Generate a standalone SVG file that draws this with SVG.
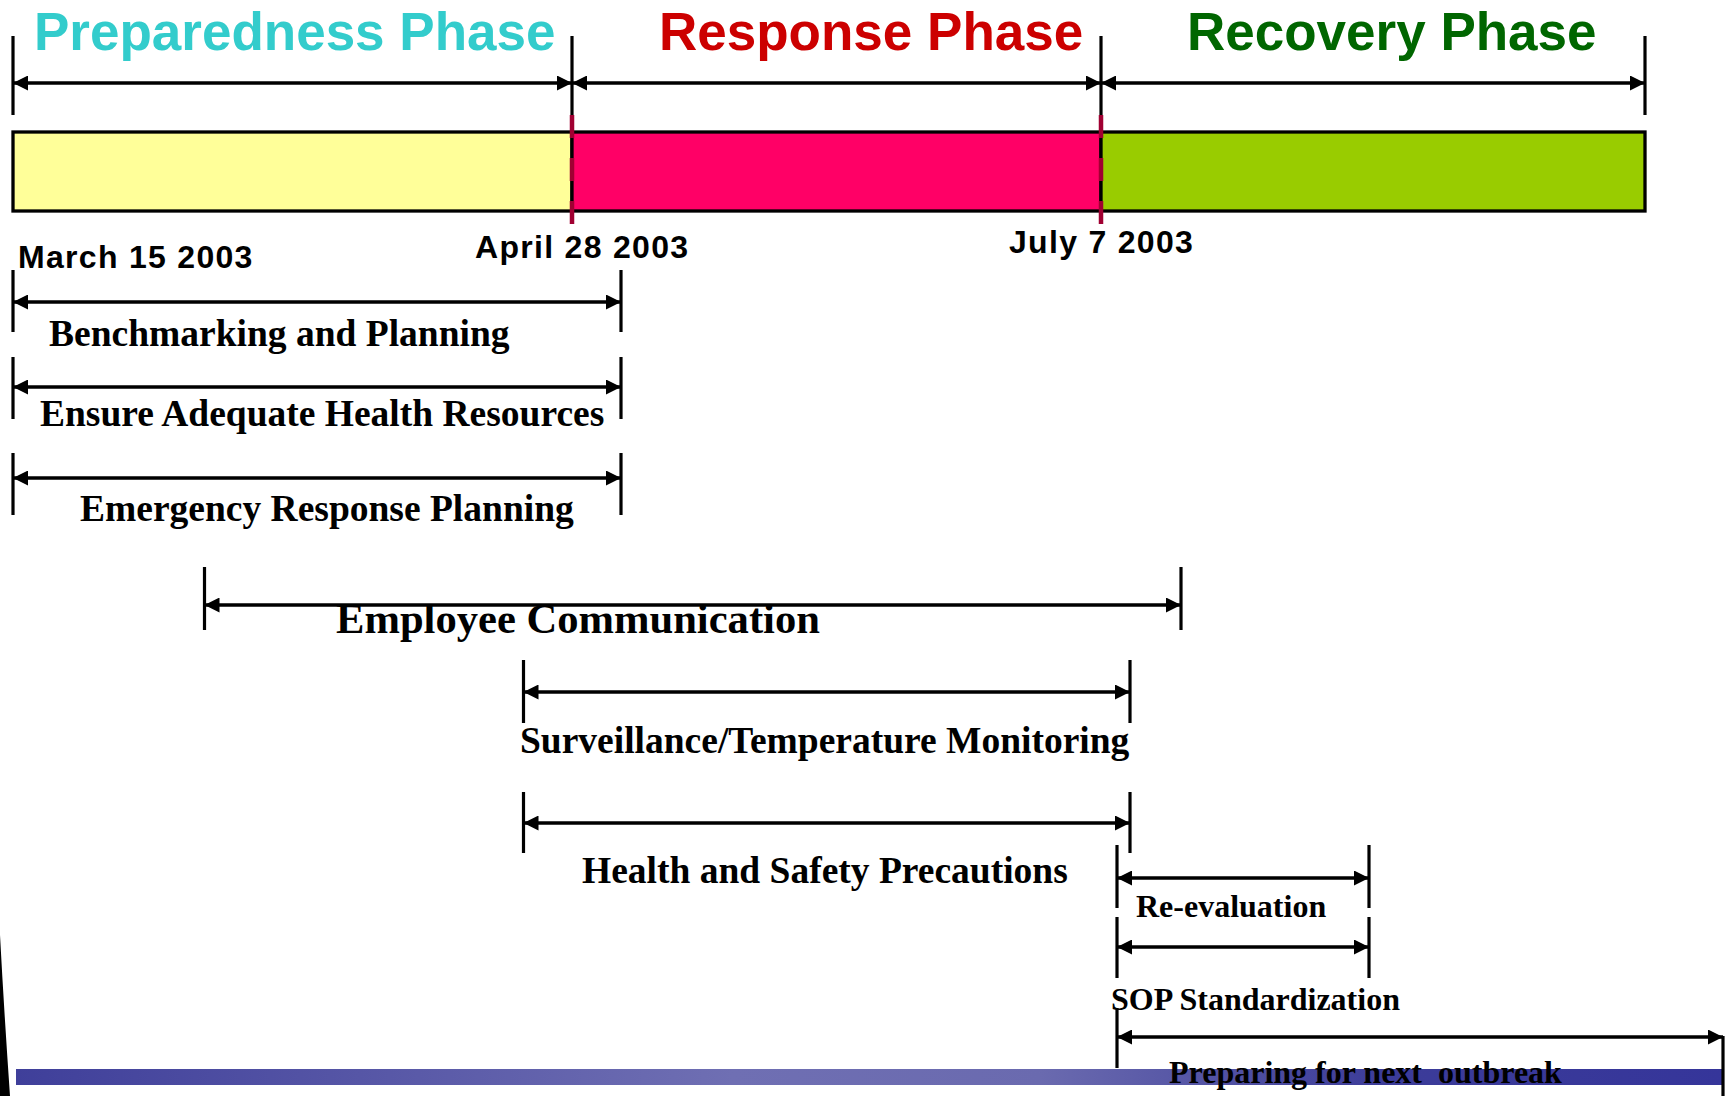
<svg xmlns="http://www.w3.org/2000/svg" width="1731" height="1096" viewBox="0 0 1731 1096">
  <defs>
    <marker id="ah" markerUnits="userSpaceOnUse" markerWidth="15" markerHeight="15" refX="15" refY="7.5" orient="auto-start-reverse">
      <path d="M0,0 L15,7.5 L0,15 z" fill="#000"/>
    </marker>
    <linearGradient id="band" x1="0" y1="0" x2="1" y2="0">
      <stop offset="0" stop-color="#3f3f9a"/>
      <stop offset="0.42" stop-color="#6f6fb3"/>
      <stop offset="0.6" stop-color="#6a6aaf"/>
      <stop offset="0.8" stop-color="#3c3c99"/>
      <stop offset="1" stop-color="#35359a"/>
    </linearGradient>
    <style>
      .title { font-family: "Liberation Sans", Arial, sans-serif; font-weight: bold; font-size: 53px; }
      .date { font-family: "Liberation Sans", Arial, sans-serif; font-weight: bold; font-size: 32px; letter-spacing: 1.3px; fill: #000; }
      .lbl { font-family: "Liberation Serif", "Times New Roman", serif; font-weight: bold; font-size: 37.5px; fill: #000; }
      .sm { font-size: 32px; }
      .big { font-size: 42.6px; }
      .arr { stroke: #000; stroke-width: 3.4; fill: none; marker-start: url(#ah); marker-end: url(#ah); }
      .tick { stroke: #000; stroke-width: 3.2; fill: none; }
      .seg { stroke: #000; stroke-width: 3.3; }
      .div { stroke: #a00032; stroke-width: 4.5; stroke-dasharray: 23 20; fill: none; }
    </style>
  </defs>
  <rect width="1731" height="1096" fill="#fff"/>

  <!-- left edge sliver -->
  <path d="M0,935 Q4,1010 10,1096 L0,1096 Z" fill="#000"/>

  <!-- bottom band -->
  <g id="bottom-band">
    <rect x="16" y="1069" width="1707" height="16" fill="url(#band)"/>
  </g>

  <!-- phase bar -->
  <g id="phase-bar">
    <rect class="seg" x="13" y="132" width="559" height="79" fill="#ffff99"/>
    <rect class="seg" x="572" y="132" width="529" height="79" fill="#ff0066"/>
    <rect class="seg" x="1101" y="132" width="544" height="79" fill="#99cc00"/>
    <line class="div" x1="572" y1="115" x2="572" y2="224"/>
    <line class="div" x1="1101" y1="115" x2="1101" y2="224"/>
  </g>

  <g id="phase-preparedness"><text class="title" x="34" y="50" fill="#33cccc">Preparedness Phase</text></g>
  <g id="phase-response"><text class="title" x="659" y="50" fill="#cc0000">Response Phase</text></g>
  <g id="phase-recovery"><text class="title" x="1187" y="50" fill="#006600">Recovery Phase</text></g>

  <g id="date-march"><text class="date" x="18" y="268">March 15 2003</text></g>
  <g id="date-april"><text class="date" x="475" y="258">April 28 2003</text></g>
  <g id="date-july"><text class="date" x="1009" y="253">July 7 2003</text></g>

  <g id="connectors">
    <!-- phase ranges -->
    <line class="tick" x1="13" y1="36" x2="13" y2="115"/>
    <line class="tick" x1="572" y1="36" x2="572" y2="115"/>
    <line class="tick" x1="1101" y1="36" x2="1101" y2="115"/>
    <line class="tick" x1="1645" y1="36" x2="1645" y2="115"/>
    <line class="arr" x1="13" y1="83" x2="572" y2="83"/>
    <line class="arr" x1="572" y1="83" x2="1101" y2="83"/>
    <line class="arr" x1="1101" y1="83" x2="1645" y2="83"/>

    <!-- benchmarking -->
    <line class="tick" x1="13" y1="270" x2="13" y2="332"/>
    <line class="tick" x1="621" y1="270" x2="621" y2="332"/>
    <line class="arr" x1="13" y1="302" x2="621" y2="302"/>
    <!-- ensure -->
    <line class="tick" x1="13" y1="357" x2="13" y2="419"/>
    <line class="tick" x1="621" y1="357" x2="621" y2="419"/>
    <line class="arr" x1="13" y1="387" x2="621" y2="387"/>
    <!-- emergency -->
    <line class="tick" x1="13" y1="453" x2="13" y2="515"/>
    <line class="tick" x1="621" y1="453" x2="621" y2="515"/>
    <line class="arr" x1="13" y1="478" x2="621" y2="478"/>
    <!-- employee -->
    <line class="tick" x1="204.5" y1="567" x2="204.5" y2="630"/>
    <line class="tick" x1="1181" y1="567" x2="1181" y2="630"/>
    <line class="arr" x1="204.5" y1="605" x2="1181" y2="605"/>
    <!-- surveillance -->
    <line class="tick" x1="523.5" y1="660" x2="523.5" y2="723"/>
    <line class="tick" x1="1130" y1="660" x2="1130" y2="723"/>
    <line class="arr" x1="523.5" y1="692" x2="1130" y2="692"/>
    <!-- health -->
    <line class="tick" x1="523.5" y1="792" x2="523.5" y2="853"/>
    <line class="tick" x1="1130" y1="792" x2="1130" y2="853"/>
    <line class="arr" x1="523.5" y1="823" x2="1130" y2="823"/>
    <!-- re-evaluation -->
    <line class="tick" x1="1117" y1="845" x2="1117" y2="908"/>
    <line class="tick" x1="1369" y1="845" x2="1369" y2="908"/>
    <line class="arr" x1="1117" y1="878" x2="1369" y2="878"/>
    <!-- SOP -->
    <line class="tick" x1="1117" y1="917" x2="1117" y2="978"/>
    <line class="tick" x1="1369" y1="917" x2="1369" y2="978"/>
    <line class="arr" x1="1117" y1="947" x2="1369" y2="947"/>
    <!-- preparing -->
    <line class="tick" x1="1117" y1="1008" x2="1117" y2="1068"/>
    <line class="tick" x1="1723" y1="1036" x2="1723" y2="1096"/>
    <line class="arr" x1="1117" y1="1037" x2="1723" y2="1037"/>
  </g>

  <g id="act-benchmarking"><text class="lbl" x="49" y="346">Benchmarking and Planning</text></g>
  <g id="act-ensure"><text class="lbl" x="40" y="426">Ensure Adequate Health Resources</text></g>
  <g id="act-emergency"><text class="lbl" x="80" y="521">Emergency Response Planning</text></g>
  <g id="act-employee"><text class="lbl big" x="336" y="633">Employee Communication</text></g>
  <g id="act-surveillance"><text class="lbl" x="520" y="753">Surveillance/Temperature Monitoring</text></g>
  <g id="act-health"><text class="lbl" x="582" y="883">Health and Safety Precautions</text></g>
  <g id="act-reevaluation"><text class="lbl sm" x="1136" y="917">Re-evaluation</text></g>
  <g id="act-sop"><text class="lbl sm" x="1111" y="1010">SOP Standardization</text></g>
  <g id="act-preparing"><text class="lbl sm" x="1169" y="1083" xml:space="preserve">Preparing for next  outbreak</text></g>
</svg>
